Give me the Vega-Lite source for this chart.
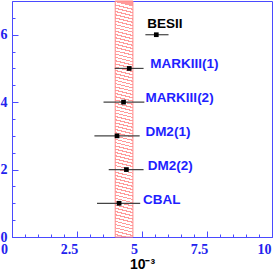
{
  "$schema": "https://vega.github.io/schema/vega-lite/v6.json",
  "width": 260,
  "height": 236,
  "autosize": {"type": "none"},
  "padding": {"left": 12, "top": 1, "right": 1, "bottom": 36},
  "background": "white",
  "config": {
    "view": {"stroke": "#4a4aff", "strokeWidth": 1},
    "axis": {"grid": false}
  },
  "datasets": {
    "band": [{"lo": 3.97, "hi": 4.65}],
    "meas": [
      {"exp": "BESII", "kind": "new", "x": 5.55, "lo": 5.13, "hi": 6.02, "y": 6, "lx": 5.2, "ly": 6.33},
      {"exp": "MARKIII(1)", "kind": "old", "x": 4.51, "lo": 3.95, "hi": 5.06, "y": 5, "lx": 5.32, "ly": 5.14},
      {"exp": "MARKIII(2)", "kind": "old", "x": 4.29, "lo": 3.52, "hi": 5.09, "y": 4, "lx": 5.13, "ly": 4.11},
      {"exp": "DM2(1)", "kind": "old", "x": 4.04, "lo": 3.17, "hi": 4.91, "y": 3, "lx": 5.13, "ly": 3.1},
      {"exp": "DM2(2)", "kind": "old", "x": 4.4, "lo": 3.72, "hi": 5.06, "y": 2, "lx": 5.22, "ly": 2.1},
      {"exp": "CBAL", "kind": "old", "x": 4.12, "lo": 3.27, "hi": 4.93, "y": 1, "lx": 5.04, "ly": 1.09}
    ]
  },
  "resolve": {"axis": {"x": "independent", "y": "independent"}},
  "layer": [
    {
      "data": {"name": "band"},
      "mark": {
        "type": "rect",
        "stroke": "#ff8a8a",
        "strokeWidth": 1,
        "fill": {
          "gradient": "linear", "x1": 0, "y1": 0, "x2": -0.0187, "y2": 1,
          "stops": [
            {"offset": 0, "color": "#ff9a9a"}, {"offset": 0.005, "color": "#ff9a9a"}, {"offset": 0.005, "color": "#ffffff"}, {"offset": 0.01389, "color": "#ffffff"},
            {"offset": 0.01389, "color": "#ff9a9a"}, {"offset": 0.01889, "color": "#ff9a9a"}, {"offset": 0.01889, "color": "#ffffff"}, {"offset": 0.02778, "color": "#ffffff"},
            {"offset": 0.02778, "color": "#ff9a9a"}, {"offset": 0.03278, "color": "#ff9a9a"}, {"offset": 0.03278, "color": "#ffffff"}, {"offset": 0.04167, "color": "#ffffff"},
            {"offset": 0.04167, "color": "#ff9a9a"}, {"offset": 0.04667, "color": "#ff9a9a"}, {"offset": 0.04667, "color": "#ffffff"}, {"offset": 0.05556, "color": "#ffffff"},
            {"offset": 0.05556, "color": "#ff9a9a"}, {"offset": 0.06056, "color": "#ff9a9a"}, {"offset": 0.06056, "color": "#ffffff"}, {"offset": 0.06944, "color": "#ffffff"},
            {"offset": 0.06944, "color": "#ff9a9a"}, {"offset": 0.07444, "color": "#ff9a9a"}, {"offset": 0.07444, "color": "#ffffff"}, {"offset": 0.08333, "color": "#ffffff"},
            {"offset": 0.08333, "color": "#ff9a9a"}, {"offset": 0.08833, "color": "#ff9a9a"}, {"offset": 0.08833, "color": "#ffffff"}, {"offset": 0.09722, "color": "#ffffff"},
            {"offset": 0.09722, "color": "#ff9a9a"}, {"offset": 0.10222, "color": "#ff9a9a"}, {"offset": 0.10222, "color": "#ffffff"}, {"offset": 0.11111, "color": "#ffffff"},
            {"offset": 0.11111, "color": "#ff9a9a"}, {"offset": 0.11611, "color": "#ff9a9a"}, {"offset": 0.11611, "color": "#ffffff"}, {"offset": 0.125, "color": "#ffffff"},
            {"offset": 0.125, "color": "#ff9a9a"}, {"offset": 0.13, "color": "#ff9a9a"}, {"offset": 0.13, "color": "#ffffff"}, {"offset": 0.13889, "color": "#ffffff"},
            {"offset": 0.13889, "color": "#ff9a9a"}, {"offset": 0.14389, "color": "#ff9a9a"}, {"offset": 0.14389, "color": "#ffffff"}, {"offset": 0.15278, "color": "#ffffff"},
            {"offset": 0.15278, "color": "#ff9a9a"}, {"offset": 0.15778, "color": "#ff9a9a"}, {"offset": 0.15778, "color": "#ffffff"}, {"offset": 0.16667, "color": "#ffffff"},
            {"offset": 0.16667, "color": "#ff9a9a"}, {"offset": 0.17167, "color": "#ff9a9a"}, {"offset": 0.17167, "color": "#ffffff"}, {"offset": 0.18056, "color": "#ffffff"},
            {"offset": 0.18056, "color": "#ff9a9a"}, {"offset": 0.18556, "color": "#ff9a9a"}, {"offset": 0.18556, "color": "#ffffff"}, {"offset": 0.19444, "color": "#ffffff"},
            {"offset": 0.19444, "color": "#ff9a9a"}, {"offset": 0.19944, "color": "#ff9a9a"}, {"offset": 0.19944, "color": "#ffffff"}, {"offset": 0.20833, "color": "#ffffff"},
            {"offset": 0.20833, "color": "#ff9a9a"}, {"offset": 0.21333, "color": "#ff9a9a"}, {"offset": 0.21333, "color": "#ffffff"}, {"offset": 0.22222, "color": "#ffffff"},
            {"offset": 0.22222, "color": "#ff9a9a"}, {"offset": 0.22722, "color": "#ff9a9a"}, {"offset": 0.22722, "color": "#ffffff"}, {"offset": 0.23611, "color": "#ffffff"},
            {"offset": 0.23611, "color": "#ff9a9a"}, {"offset": 0.24111, "color": "#ff9a9a"}, {"offset": 0.24111, "color": "#ffffff"}, {"offset": 0.25, "color": "#ffffff"},
            {"offset": 0.25, "color": "#ff9a9a"}, {"offset": 0.255, "color": "#ff9a9a"}, {"offset": 0.255, "color": "#ffffff"}, {"offset": 0.26389, "color": "#ffffff"},
            {"offset": 0.26389, "color": "#ff9a9a"}, {"offset": 0.26889, "color": "#ff9a9a"}, {"offset": 0.26889, "color": "#ffffff"}, {"offset": 0.27778, "color": "#ffffff"},
            {"offset": 0.27778, "color": "#ff9a9a"}, {"offset": 0.28278, "color": "#ff9a9a"}, {"offset": 0.28278, "color": "#ffffff"}, {"offset": 0.29167, "color": "#ffffff"},
            {"offset": 0.29167, "color": "#ff9a9a"}, {"offset": 0.29667, "color": "#ff9a9a"}, {"offset": 0.29667, "color": "#ffffff"}, {"offset": 0.30556, "color": "#ffffff"},
            {"offset": 0.30556, "color": "#ff9a9a"}, {"offset": 0.31056, "color": "#ff9a9a"}, {"offset": 0.31056, "color": "#ffffff"}, {"offset": 0.31944, "color": "#ffffff"},
            {"offset": 0.31944, "color": "#ff9a9a"}, {"offset": 0.32444, "color": "#ff9a9a"}, {"offset": 0.32444, "color": "#ffffff"}, {"offset": 0.33333, "color": "#ffffff"},
            {"offset": 0.33333, "color": "#ff9a9a"}, {"offset": 0.33833, "color": "#ff9a9a"}, {"offset": 0.33833, "color": "#ffffff"}, {"offset": 0.34722, "color": "#ffffff"},
            {"offset": 0.34722, "color": "#ff9a9a"}, {"offset": 0.35222, "color": "#ff9a9a"}, {"offset": 0.35222, "color": "#ffffff"}, {"offset": 0.36111, "color": "#ffffff"},
            {"offset": 0.36111, "color": "#ff9a9a"}, {"offset": 0.36611, "color": "#ff9a9a"}, {"offset": 0.36611, "color": "#ffffff"}, {"offset": 0.375, "color": "#ffffff"},
            {"offset": 0.375, "color": "#ff9a9a"}, {"offset": 0.38, "color": "#ff9a9a"}, {"offset": 0.38, "color": "#ffffff"}, {"offset": 0.38889, "color": "#ffffff"},
            {"offset": 0.38889, "color": "#ff9a9a"}, {"offset": 0.39389, "color": "#ff9a9a"}, {"offset": 0.39389, "color": "#ffffff"}, {"offset": 0.40278, "color": "#ffffff"},
            {"offset": 0.40278, "color": "#ff9a9a"}, {"offset": 0.40778, "color": "#ff9a9a"}, {"offset": 0.40778, "color": "#ffffff"}, {"offset": 0.41667, "color": "#ffffff"},
            {"offset": 0.41667, "color": "#ff9a9a"}, {"offset": 0.42167, "color": "#ff9a9a"}, {"offset": 0.42167, "color": "#ffffff"}, {"offset": 0.43056, "color": "#ffffff"},
            {"offset": 0.43056, "color": "#ff9a9a"}, {"offset": 0.43556, "color": "#ff9a9a"}, {"offset": 0.43556, "color": "#ffffff"}, {"offset": 0.44444, "color": "#ffffff"},
            {"offset": 0.44444, "color": "#ff9a9a"}, {"offset": 0.44944, "color": "#ff9a9a"}, {"offset": 0.44944, "color": "#ffffff"}, {"offset": 0.45833, "color": "#ffffff"},
            {"offset": 0.45833, "color": "#ff9a9a"}, {"offset": 0.46333, "color": "#ff9a9a"}, {"offset": 0.46333, "color": "#ffffff"}, {"offset": 0.47222, "color": "#ffffff"},
            {"offset": 0.47222, "color": "#ff9a9a"}, {"offset": 0.47722, "color": "#ff9a9a"}, {"offset": 0.47722, "color": "#ffffff"}, {"offset": 0.48611, "color": "#ffffff"},
            {"offset": 0.48611, "color": "#ff9a9a"}, {"offset": 0.49111, "color": "#ff9a9a"}, {"offset": 0.49111, "color": "#ffffff"}, {"offset": 0.5, "color": "#ffffff"},
            {"offset": 0.5, "color": "#ff9a9a"}, {"offset": 0.505, "color": "#ff9a9a"}, {"offset": 0.505, "color": "#ffffff"}, {"offset": 0.51389, "color": "#ffffff"},
            {"offset": 0.51389, "color": "#ff9a9a"}, {"offset": 0.51889, "color": "#ff9a9a"}, {"offset": 0.51889, "color": "#ffffff"}, {"offset": 0.52778, "color": "#ffffff"},
            {"offset": 0.52778, "color": "#ff9a9a"}, {"offset": 0.53278, "color": "#ff9a9a"}, {"offset": 0.53278, "color": "#ffffff"}, {"offset": 0.54167, "color": "#ffffff"},
            {"offset": 0.54167, "color": "#ff9a9a"}, {"offset": 0.54667, "color": "#ff9a9a"}, {"offset": 0.54667, "color": "#ffffff"}, {"offset": 0.55556, "color": "#ffffff"},
            {"offset": 0.55556, "color": "#ff9a9a"}, {"offset": 0.56056, "color": "#ff9a9a"}, {"offset": 0.56056, "color": "#ffffff"}, {"offset": 0.56944, "color": "#ffffff"},
            {"offset": 0.56944, "color": "#ff9a9a"}, {"offset": 0.57444, "color": "#ff9a9a"}, {"offset": 0.57444, "color": "#ffffff"}, {"offset": 0.58333, "color": "#ffffff"},
            {"offset": 0.58333, "color": "#ff9a9a"}, {"offset": 0.58833, "color": "#ff9a9a"}, {"offset": 0.58833, "color": "#ffffff"}, {"offset": 0.59722, "color": "#ffffff"},
            {"offset": 0.59722, "color": "#ff9a9a"}, {"offset": 0.60222, "color": "#ff9a9a"}, {"offset": 0.60222, "color": "#ffffff"}, {"offset": 0.61111, "color": "#ffffff"},
            {"offset": 0.61111, "color": "#ff9a9a"}, {"offset": 0.61611, "color": "#ff9a9a"}, {"offset": 0.61611, "color": "#ffffff"}, {"offset": 0.625, "color": "#ffffff"},
            {"offset": 0.625, "color": "#ff9a9a"}, {"offset": 0.63, "color": "#ff9a9a"}, {"offset": 0.63, "color": "#ffffff"}, {"offset": 0.63889, "color": "#ffffff"},
            {"offset": 0.63889, "color": "#ff9a9a"}, {"offset": 0.64389, "color": "#ff9a9a"}, {"offset": 0.64389, "color": "#ffffff"}, {"offset": 0.65278, "color": "#ffffff"},
            {"offset": 0.65278, "color": "#ff9a9a"}, {"offset": 0.65778, "color": "#ff9a9a"}, {"offset": 0.65778, "color": "#ffffff"}, {"offset": 0.66667, "color": "#ffffff"},
            {"offset": 0.66667, "color": "#ff9a9a"}, {"offset": 0.67167, "color": "#ff9a9a"}, {"offset": 0.67167, "color": "#ffffff"}, {"offset": 0.68056, "color": "#ffffff"},
            {"offset": 0.68056, "color": "#ff9a9a"}, {"offset": 0.68556, "color": "#ff9a9a"}, {"offset": 0.68556, "color": "#ffffff"}, {"offset": 0.69444, "color": "#ffffff"},
            {"offset": 0.69444, "color": "#ff9a9a"}, {"offset": 0.69944, "color": "#ff9a9a"}, {"offset": 0.69944, "color": "#ffffff"}, {"offset": 0.70833, "color": "#ffffff"},
            {"offset": 0.70833, "color": "#ff9a9a"}, {"offset": 0.71333, "color": "#ff9a9a"}, {"offset": 0.71333, "color": "#ffffff"}, {"offset": 0.72222, "color": "#ffffff"},
            {"offset": 0.72222, "color": "#ff9a9a"}, {"offset": 0.72722, "color": "#ff9a9a"}, {"offset": 0.72722, "color": "#ffffff"}, {"offset": 0.73611, "color": "#ffffff"},
            {"offset": 0.73611, "color": "#ff9a9a"}, {"offset": 0.74111, "color": "#ff9a9a"}, {"offset": 0.74111, "color": "#ffffff"}, {"offset": 0.75, "color": "#ffffff"},
            {"offset": 0.75, "color": "#ff9a9a"}, {"offset": 0.755, "color": "#ff9a9a"}, {"offset": 0.755, "color": "#ffffff"}, {"offset": 0.76389, "color": "#ffffff"},
            {"offset": 0.76389, "color": "#ff9a9a"}, {"offset": 0.76889, "color": "#ff9a9a"}, {"offset": 0.76889, "color": "#ffffff"}, {"offset": 0.77778, "color": "#ffffff"},
            {"offset": 0.77778, "color": "#ff9a9a"}, {"offset": 0.78278, "color": "#ff9a9a"}, {"offset": 0.78278, "color": "#ffffff"}, {"offset": 0.79167, "color": "#ffffff"},
            {"offset": 0.79167, "color": "#ff9a9a"}, {"offset": 0.79667, "color": "#ff9a9a"}, {"offset": 0.79667, "color": "#ffffff"}, {"offset": 0.80556, "color": "#ffffff"},
            {"offset": 0.80556, "color": "#ff9a9a"}, {"offset": 0.81056, "color": "#ff9a9a"}, {"offset": 0.81056, "color": "#ffffff"}, {"offset": 0.81944, "color": "#ffffff"},
            {"offset": 0.81944, "color": "#ff9a9a"}, {"offset": 0.82444, "color": "#ff9a9a"}, {"offset": 0.82444, "color": "#ffffff"}, {"offset": 0.83333, "color": "#ffffff"},
            {"offset": 0.83333, "color": "#ff9a9a"}, {"offset": 0.83833, "color": "#ff9a9a"}, {"offset": 0.83833, "color": "#ffffff"}, {"offset": 0.84722, "color": "#ffffff"},
            {"offset": 0.84722, "color": "#ff9a9a"}, {"offset": 0.85222, "color": "#ff9a9a"}, {"offset": 0.85222, "color": "#ffffff"}, {"offset": 0.86111, "color": "#ffffff"},
            {"offset": 0.86111, "color": "#ff9a9a"}, {"offset": 0.86611, "color": "#ff9a9a"}, {"offset": 0.86611, "color": "#ffffff"}, {"offset": 0.875, "color": "#ffffff"},
            {"offset": 0.875, "color": "#ff9a9a"}, {"offset": 0.88, "color": "#ff9a9a"}, {"offset": 0.88, "color": "#ffffff"}, {"offset": 0.88889, "color": "#ffffff"},
            {"offset": 0.88889, "color": "#ff9a9a"}, {"offset": 0.89389, "color": "#ff9a9a"}, {"offset": 0.89389, "color": "#ffffff"}, {"offset": 0.90278, "color": "#ffffff"},
            {"offset": 0.90278, "color": "#ff9a9a"}, {"offset": 0.90778, "color": "#ff9a9a"}, {"offset": 0.90778, "color": "#ffffff"}, {"offset": 0.91667, "color": "#ffffff"},
            {"offset": 0.91667, "color": "#ff9a9a"}, {"offset": 0.92167, "color": "#ff9a9a"}, {"offset": 0.92167, "color": "#ffffff"}, {"offset": 0.93056, "color": "#ffffff"},
            {"offset": 0.93056, "color": "#ff9a9a"}, {"offset": 0.93556, "color": "#ff9a9a"}, {"offset": 0.93556, "color": "#ffffff"}, {"offset": 0.94444, "color": "#ffffff"},
            {"offset": 0.94444, "color": "#ff9a9a"}, {"offset": 0.94944, "color": "#ff9a9a"}, {"offset": 0.94944, "color": "#ffffff"}, {"offset": 0.95833, "color": "#ffffff"},
            {"offset": 0.95833, "color": "#ff9a9a"}, {"offset": 0.96333, "color": "#ff9a9a"}, {"offset": 0.96333, "color": "#ffffff"}, {"offset": 0.97222, "color": "#ffffff"},
            {"offset": 0.97222, "color": "#ff9a9a"}, {"offset": 0.97722, "color": "#ff9a9a"}, {"offset": 0.97722, "color": "#ffffff"}, {"offset": 0.98611, "color": "#ffffff"},
            {"offset": 0.98611, "color": "#ff9a9a"}, {"offset": 0.99111, "color": "#ff9a9a"}, {"offset": 0.99111, "color": "#ffffff"}, {"offset": 1, "color": "#ffffff"}
          ]
        }
      },
      "encoding": {
        "x": {
          "field": "lo", "type": "quantitative",
          "scale": {"domain": [0, 10], "nice": false, "zero": false},
          "title": "10⁻³",
          "axis": {
            "orient": "bottom",
            "values": [0, 2.5, 5, 7.5, 10],
            "labelExpr": "datum.value + ''",
            "domainColor": "#4a4aff",
            "tickColor": "#4a4aff",
            "tickSize": -6,
            "labelFont": "Liberation Serif",
            "labelFontWeight": "bold",
            "labelFontSize": 14,
            "labelColor": "#2222ee",
            "labelAlign": {"condition": {"test": "datum.value === 10", "value": "right"}, "value": "center"},
            "labelOffset": {"condition": {"test": "datum.value === 10", "value": -1}, "value": -8},
            "labelPadding": 11,
            "labelFlush": false,
            "labelOverlap": false,
            "titleFont": "Liberation Sans",
            "titleFontWeight": "bold",
            "titleFontSize": 14,
            "titleColor": "black",
            "titlePadding": 1
          }
        },
        "x2": {"field": "hi"}
      }
    },
    {
      "data": {"name": "meas"},
      "mark": {"type": "rule", "color": "#444444", "strokeWidth": 1.2},
      "encoding": {
        "x": {
          "field": "lo", "type": "quantitative",
          "scale": {"domain": [0, 10], "nice": false, "zero": false},
          "title": null,
          "axis": {
            "orient": "bottom",
            "values": [0.5, 1, 1.5, 2, 3, 3.5, 4, 4.5, 5.5, 6, 6.5, 7, 8, 8.5, 9, 9.5],
            "labels": false,
            "domain": false,
            "tickColor": "#4a4aff",
            "tickSize": -3
          }
        },
        "x2": {"field": "hi"},
        "y": {
          "field": "y", "type": "quantitative",
          "scale": {"domain": [0, 7], "nice": false, "zero": false},
          "title": null,
          "axis": {
            "orient": "left",
            "values": [0, 2, 4, 6],
            "labelExpr": "datum.value + ''",
            "domainColor": "#4a4aff",
            "tickColor": "#4a4aff",
            "tickSize": -6,
            "labelFont": "Liberation Serif",
            "labelFontWeight": "bold",
            "labelFontSize": 14,
            "labelColor": "#2222ee",
            "labelPadding": 11,
            "labelFlush": false,
            "labelOverlap": false
          }
        }
      }
    },
    {
      "data": {"name": "meas"},
      "mark": {"type": "square", "size": 22, "color": "black", "opacity": 1},
      "encoding": {
        "x": {"field": "x", "type": "quantitative", "scale": {"domain": [0, 10], "nice": false, "zero": false}, "axis": null},
        "y": {
          "field": "y", "type": "quantitative",
          "scale": {"domain": [0, 7], "nice": false, "zero": false},
          "title": null,
          "axis": {
            "orient": "left",
            "values": [0.5, 1, 1.5, 2.5, 3, 3.5, 4.5, 5, 5.5, 6.5],
            "labels": false,
            "domain": false,
            "tickColor": "#4a4aff",
            "tickSize": -3
          }
        }
      }
    },
    {
      "data": {"name": "meas"},
      "mark": {"type": "text", "align": "left", "baseline": "middle", "font": "Liberation Sans", "fontWeight": "bold", "fontSize": 13.5},
      "encoding": {
        "x": {"field": "lx", "type": "quantitative", "scale": {"domain": [0, 10], "nice": false, "zero": false}, "axis": null},
        "y": {"field": "ly", "type": "quantitative", "scale": {"domain": [0, 7], "nice": false, "zero": false}, "axis": null},
        "text": {"field": "exp"},
        "color": {"field": "kind", "type": "nominal", "scale": {"domain": ["new", "old"], "range": ["black", "#1f1fff"]}, "legend": null}
      }
    }
  ]
}
